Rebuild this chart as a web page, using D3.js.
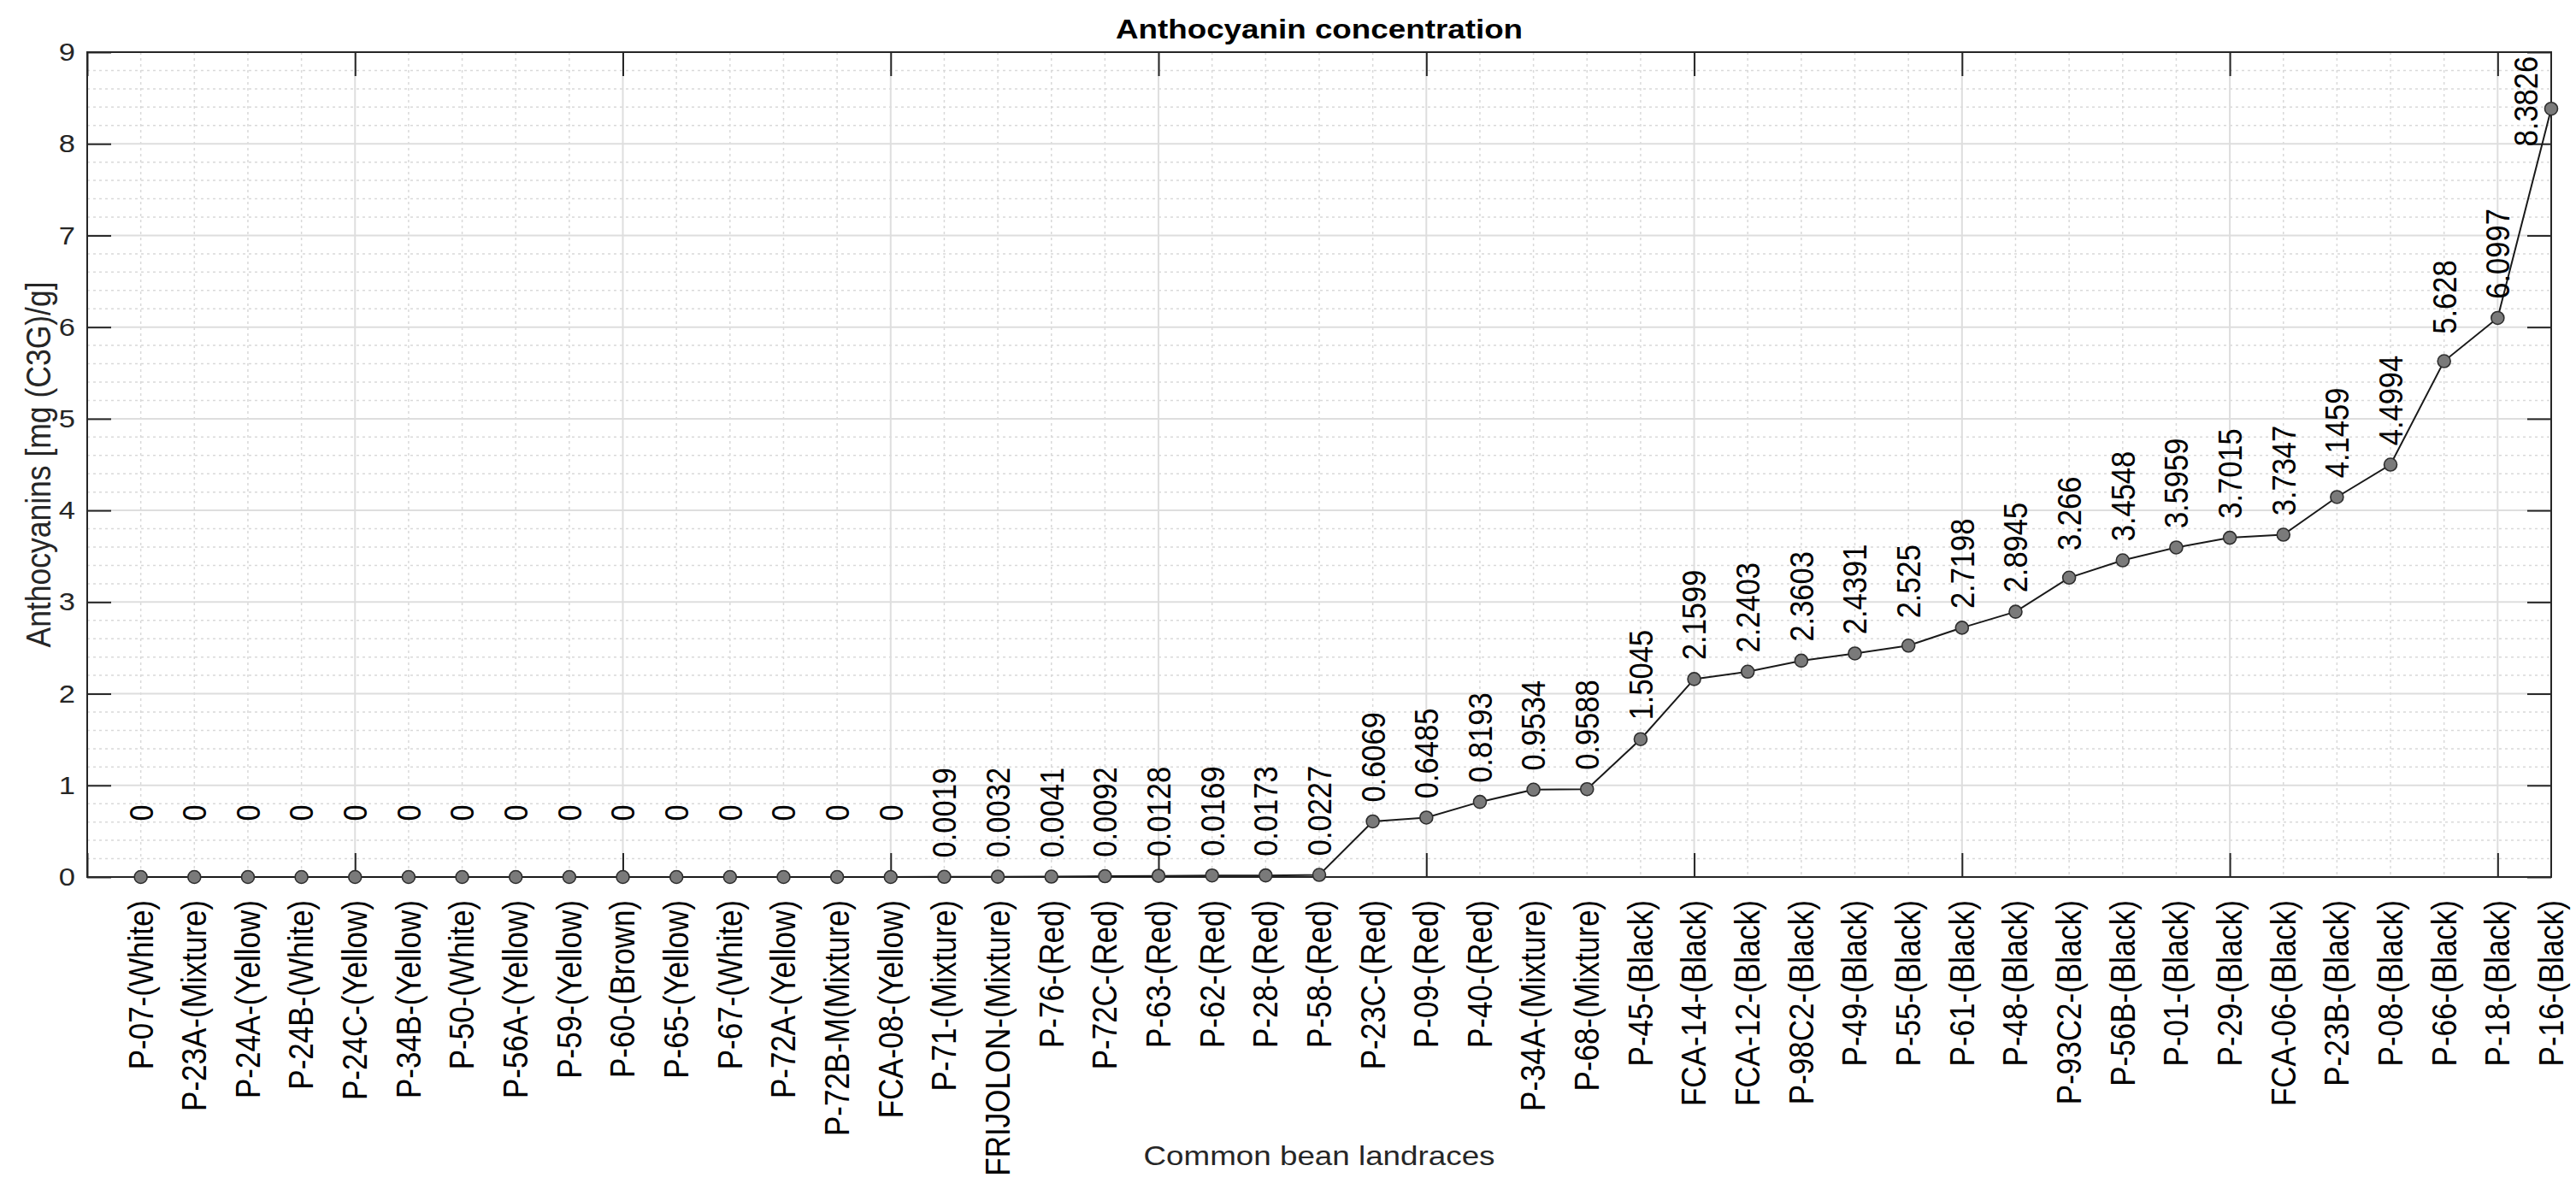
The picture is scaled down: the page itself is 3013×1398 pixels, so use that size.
<!DOCTYPE html>
<html>
<head>
<meta charset="utf-8">
<script src="https://cdn.jsdelivr.net/npm/d3@7"></script>
<style>
  body { margin: 0; background: #fff; }
  svg { display: block; font-family: "Liberation Sans", Arial, sans-serif; }
</style>
</head>
<body>
<svg id="chart" width="3013" height="1398"></svg>
<script>
const categories = [
  "P-07-(White)", "P-23A-(Mixture)", "P-24A-(Yellow)", "P-24B-(White)", "P-24C-(Yellow)",
  "P-34B-(Yellow)", "P-50-(White)", "P-56A-(Yellow)", "P-59-(Yellow)", "P-60-(Brown)",
  "P-65-(Yellow)", "P-67-(White)", "P-72A-(Yellow)", "P-72B-M(Mixture)", "FCA-08-(Yellow)",
  "P-71-(Mixture)", "FRIJOLON-(Mixture)", "P-76-(Red)", "P-72C-(Red)", "P-63-(Red)",
  "P-62-(Red)", "P-28-(Red)", "P-58-(Red)", "P-23C-(Red)", "P-09-(Red)",
  "P-40-(Red)", "P-34A-(Mixture)", "P-68-(Mixture)", "P-45-(Black)", "FCA-14-(Black)",
  "FCA-12-(Black)", "P-98C2-(Black)", "P-49-(Black)", "P-55-(Black)", "P-61-(Black)",
  "P-48-(Black)", "P-93C2-(Black)", "P-56B-(Black)", "P-01-(Black)", "P-29-(Black)",
  "FCA-06-(Black)", "P-23B-(Black)", "P-08-(Black)", "P-66-(Black)", "P-18-(Black)",
  "P-16-(Black)"
];

const anthocyanins = [
  0, 0, 0, 0, 0, 0, 0, 0, 0, 0, 0, 0, 0, 0, 0,
  0.0019, 0.0032, 0.0041, 0.0092, 0.0128, 0.0169, 0.0173, 0.0227,
  0.6069, 0.6485, 0.8193, 0.9534, 0.9588,
  1.5045, 2.1599, 2.2403, 2.3603, 2.4391, 2.525, 2.7198, 2.8945,
  3.266, 3.4548, 3.5959, 3.7015, 3.7347, 4.1459, 4.4994, 5.628, 6.0997, 8.3826
];

const yTicks = [0, 1, 2, 3, 4, 5, 6, 7, 8, 9];
const xTicks = [0, 5, 10, 15, 20, 25, 30, 35, 40, 45];

const titleText = "Anthocyanin concentration";
const xLabelText = "Common bean landraces";
const yLabelText = "Anthocyanins [mg (C3G)/g]";

const data = categories.map((c, i) => ({ name: c, index: i + 1, value: anthocyanins[i] }));

const plotLeft = 102, plotRight = 2984, plotTop = 61, plotBottom = 1026;
const axisColor = "#262626";
const stretch = "scale(1.15,1)"; // the reference glyphs are a bit wider than Liberation Sans

const svg = d3.select("#chart");

const x = d3.scaleLinear().domain([0, categories.length]).range([plotLeft, plotRight]);
const y = d3.scaleLinear().domain([0, 9]).range([plotBottom, plotTop]);

// grid: minor dotted, major solid
const grid = svg.append("g");
grid.selectAll("line.minor-y")
  .data(d3.range(0, 9.0001, 0.2).filter(v => Math.abs(v - Math.round(v)) > 0.01))
  .join("line")
  .attr("x1", plotLeft).attr("x2", plotRight)
  .attr("y1", d => y(d)).attr("y2", d => y(d))
  .attr("stroke", "#d9d9d9").attr("stroke-width", 1.5)
  .attr("stroke-dasharray", "3,4");
grid.selectAll("line.minor-x")
  .data(d3.range(1, categories.length).filter(v => v % 5 !== 0))
  .join("line")
  .attr("x1", d => x(d)).attr("x2", d => x(d))
  .attr("y1", plotTop).attr("y2", plotBottom)
  .attr("stroke", "#d9d9d9").attr("stroke-width", 1.5)
  .attr("stroke-dasharray", "3,4");
grid.selectAll("line.major-y")
  .data(yTicks.slice(1, -1))
  .join("line")
  .attr("x1", plotLeft).attr("x2", plotRight)
  .attr("y1", d => y(d)).attr("y2", d => y(d))
  .attr("stroke", "#dedede").attr("stroke-width", 2);
grid.selectAll("line.major-x")
  .data(xTicks.slice(1))
  .join("line")
  .attr("x1", d => x(d)).attr("x2", d => x(d))
  .attr("y1", plotTop).attr("y2", plotBottom)
  .attr("stroke", "#dedede").attr("stroke-width", 2);

// axes (ticks pointing inward, box on)
const yAxis = svg.append("g")
  .attr("transform", "translate(" + plotLeft + ",0)")
  .call(d3.axisLeft(y).tickValues(yTicks).tickSize(-28).tickPadding(14).tickFormat(d3.format("d")));
yAxis.selectAll("text")
  .attr("x", null)
  .attr("transform", "translate(-14,0) " + stretch)
  .attr("font-size", 30)
  .attr("fill", axisColor);

svg.append("g")
  .attr("transform", "translate(" + plotRight + ",0)")
  .call(d3.axisRight(y).tickValues(yTicks).tickSize(-28).tickFormat(""));
svg.append("g")
  .attr("transform", "translate(0," + plotBottom + ")")
  .call(d3.axisBottom(x).tickValues(xTicks).tickSize(-28).tickFormat(""));
svg.append("g")
  .attr("transform", "translate(0," + plotTop + ")")
  .call(d3.axisTop(x).tickValues(xTicks).tickSize(-28).tickFormat(""));

svg.selectAll(".domain").remove();
svg.selectAll(".tick line").attr("stroke", axisColor).attr("stroke-width", 2);

svg.append("rect")
  .attr("x", plotLeft).attr("y", plotTop)
  .attr("width", plotRight - plotLeft).attr("height", plotBottom - plotTop)
  .attr("fill", "none").attr("stroke", axisColor).attr("stroke-width", 2);

// line + markers
const line = d3.line().x(d => x(d.index)).y(d => y(d.value));
svg.append("path")
  .datum(data)
  .attr("d", line)
  .attr("fill", "none")
  .attr("stroke", "#1a1a1a")
  .attr("stroke-width", 2);

svg.append("g")
  .selectAll("circle")
  .data(data)
  .join("circle")
  .attr("cx", d => x(d.index))
  .attr("cy", d => y(d.value))
  .attr("r", 7.5)
  .attr("fill", "#7a7a7a")
  .attr("stroke", "#2e2e2e")
  .attr("stroke-width", 1.6);

// value labels (rotated); the top one is pushed left of its point
svg.append("g")
  .selectAll("text")
  .data(data)
  .join("text")
  .attr("transform", d => {
    const high = d.value + 0.7 > 8.5;
    const px = high ? x(d.index - 0.47) : x(d.index);
    const py = high ? y(d.value + 0.08) : y(d.value + 0.7);
    return "translate(" + px + "," + py + ") " + stretch + " rotate(-90)";
  })
  .attr("text-anchor", "middle")
  .attr("dominant-baseline", "central")
  .attr("font-size", 34.5)
  .attr("fill", "#000")
  .text(d => String(d.value));

// category labels
svg.append("g")
  .selectAll("text")
  .data(data)
  .join("text")
  .attr("transform", d => "translate(" + x(d.index) + "," + (plotBottom + 27) + ") " + stretch + " rotate(-90)")
  .attr("text-anchor", "end")
  .attr("dominant-baseline", "central")
  .attr("font-size", 35)
  .attr("fill", "#000")
  .text(d => d.name);

// titles
svg.append("text")
  .attr("transform", "translate(" + (plotLeft + plotRight) / 2 + ",45) " + stretch)
  .attr("text-anchor", "middle")
  .attr("font-size", 32).attr("font-weight", "bold")
  .attr("fill", "#000")
  .text(titleText);

svg.append("text")
  .attr("transform", "translate(" + (plotLeft + plotRight) / 2 + ",1363) " + stretch)
  .attr("text-anchor", "middle")
  .attr("font-size", 32)
  .attr("fill", axisColor)
  .text(xLabelText);

svg.append("text")
  .attr("transform", "translate(45," + (plotTop + plotBottom) / 2 + ") " + stretch + " rotate(-90)")
  .attr("text-anchor", "middle")
  .attr("dominant-baseline", "central")
  .attr("font-size", 35.5)
  .attr("fill", axisColor)
  .text(yLabelText);
</script>
</body>
</html>
